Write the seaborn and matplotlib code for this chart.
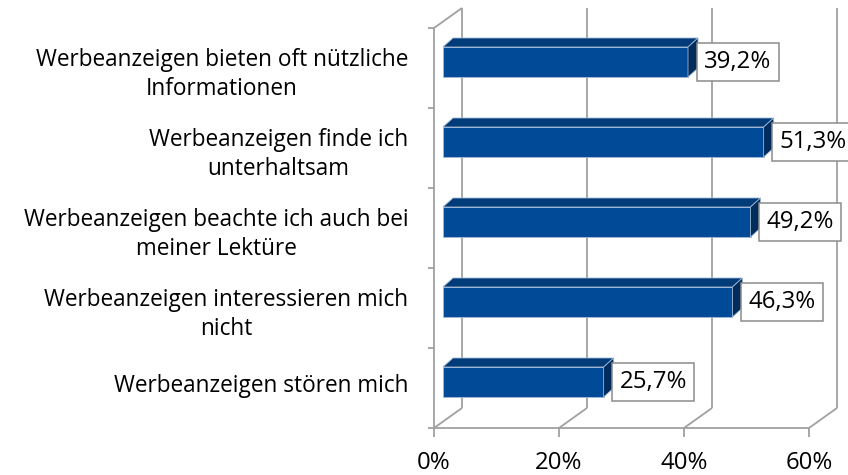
import numpy as np
import matplotlib
matplotlib.use("Agg")
import matplotlib.pyplot as plt
import matplotlib.transforms as mtransforms
import seaborn as sns
from matplotlib.patches import Polygon

# data
labels = [
    "Werbeanzeigen bieten oft nützliche\nInformationen",
    "Werbeanzeigen finde ich\nunterhaltsam",
    "Werbeanzeigen beachte ich auch bei\nmeiner Lektüre",
    "Werbeanzeigen interessieren mich\nnicht",
    "Werbeanzeigen stören mich",
]
values = [39.2, 51.3, 49.2, 46.3, 25.7]
xticks = [0, 20, 40, 60]

sns.set_style("white")
plt.rcParams["font.family"] = ["Open Sans", "DejaVu Sans"]

front_col = "#004a97"
top_col = "#013b78"
side_col = "#012c5c"
grid_col = "#a0a0a0"
fs = 16.3        # category labels
fs_num = 17.3    # tick + value labels

fig = plt.figure(figsize=(8.48, 4.75), dpi=100)
ax = fig.add_axes([443 / 848, 1 - 422 / 475, 375 / 848, 400 / 475])

sns.barplot(x=values, y=labels, orient="h", color=front_col, width=0.375,
            saturation=1, edgecolor="#9db6d6", linewidth=0.7, ax=ax, zorder=3)
ax.set_xlim(0, 60)
ax.set_ylim(len(labels) - 0.5, -0.5)
for s in ax.spines.values():
    s.set_visible(False)
ax.set_xlabel("")
ax.set_ylabel("")
ax.set_xticks([])
ax.tick_params(axis="y", length=0, pad=25, labelsize=fs, colors="black")
for t in ax.get_yticklabels():
    t.set_multialignment("center")
    t.set_linespacing(1.3)
    down = 7 if "\n" in t.get_text() else 1
    t.set_transform(t.get_transform() +
                    mtransforms.ScaledTranslation(0, -down / 100, fig.dpi_scale_trans))


def shift(dx, dy):
    # pixel offset -> data offset
    inv = ax.transData.inverted()
    return inv.transform((dx, dy)) - inv.transform((0, 0))


fdx, fdy = shift(-9, -6)    # front plane
bdx, bdy = shift(19, 14)    # back wall
ddx, ddy = shift(10, 9)     # bar depth
y0, y1 = -0.5, len(labels) - 0.5
lw = 1.3

def line(xs, ys, **kw):
    ax.plot(xs, ys, color=grid_col, lw=lw, clip_on=False, solid_capstyle="butt", **kw)

# back wall gridlines + floor diagonals + floor ticks
for v in xticks:
    line([v + bdx, v + bdx], [y1 + bdy, y0 + bdy], zorder=1)
    line([v + fdx, v + bdx], [y1 + fdy, y1 + bdy], zorder=1)
    tx, ty = shift(0, -9)
    line([v + fdx, v + fdx], [y1 + fdy, y1 + fdy + ty], zorder=1)
    lx, ly = shift(0, -35)
    ax.text(v + fdx, y1 + fdy + ly, f"{v}%", ha="center", va="center",
            fontsize=fs_num, color="black")

# floor front line and left wall
line([0 + fdx, 60 + fdx], [y1 + fdy, y1 + fdy], zorder=1)
line([0 + fdx, 0 + fdx], [y0 + fdy, y1 + fdy], zorder=1)
line([0 + fdx, 0 + bdx], [y0 + fdy, y0 + bdy], zorder=1)
kx, ky = shift(-6, 0)
for b in np.arange(len(labels) + 1) - 0.5:
    line([fdx + kx, fdx], [b + fdy, b + fdy], zorder=1)

# 3d faces of the bars + value labels
h = 0.375 / 2
for i, v in enumerate(values):
    top = Polygon([(0, i - h), (v, i - h), (v + ddx, i - h + ddy), (0 + ddx, i - h + ddy)],
                  closed=True, facecolor=top_col, edgecolor="#9db6d6", lw=0.6, zorder=3)
    side = Polygon([(v, i - h), (v, i + h), (v + ddx, i + h + ddy), (v + ddx, i - h + ddy)],
                   closed=True, facecolor=side_col, edgecolor="#9db6d6", lw=0.6, zorder=3)
    ax.add_patch(top)
    ax.add_patch(side)
    ox, _ = shift(16, 0)
    ax.text(v + ox, i, f"{v:.1f}".replace(".", ",") + "%", ha="left", va="center",
            fontsize=fs_num, color="black", zorder=4,
            bbox=dict(boxstyle="square,pad=0.3", fc="white", ec="#8c8c8c", lw=1.1))

fig.savefig("out.png", dpi=100)
